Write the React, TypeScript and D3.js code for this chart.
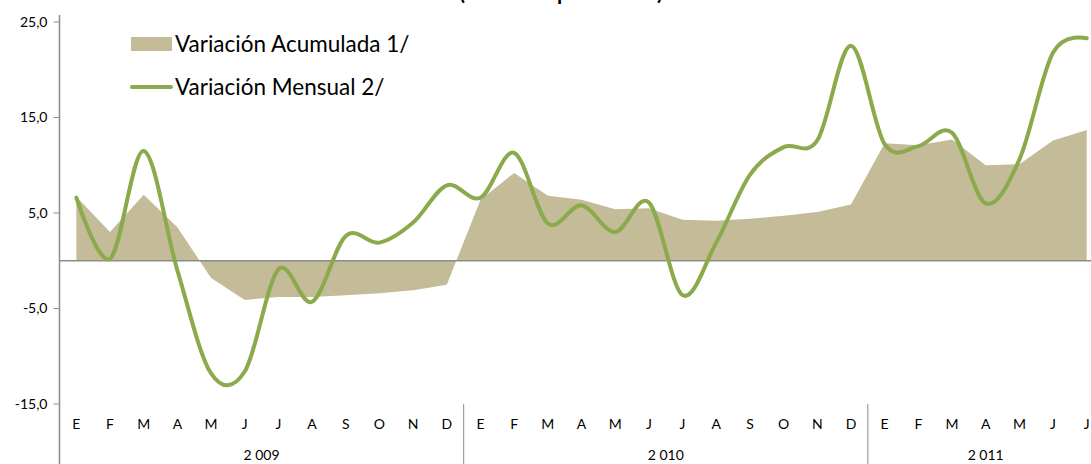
import React from 'react';
import * as d3 from 'd3';

// month initials (Spanish) and year groups
const monthNames = ['E', 'F', 'M', 'A', 'M', 'J', 'J', 'A', 'S', 'O', 'N', 'D'];
const years = ['2 009', '2 010', '2 011'];
const monthsPerYear = [12, 12, 7];

// Variación Acumulada 1/ (area)
const acumulada = [
  6.7, 3.0, 6.9, 3.5, -1.8, -4.1, -3.8, -3.8, -3.6, -3.4, -3.1, -2.5,
  6.4, 9.2, 6.8, 6.4, 5.4, 5.5, 4.3, 4.2, 4.4, 4.7, 5.1, 5.9,
  12.3, 12.1, 12.7, 10.0, 10.1, 12.6, 13.7,
];

// Variación Mensual 2/ (smoothed line)
const mensual = [
  6.6, 0.2, 11.5, -1.0, -11.8, -11.6, -0.9, -4.3, 2.6, 1.9, 4.0, 7.9,
  6.6, 11.3, 3.9, 5.8, 3.0, 6.1, -3.6, 1.9, 9.0, 11.9, 12.6, 22.5,
  12.2, 12.0, 13.4, 6.0, 10.6, 21.8, 23.3,
];

const yTicks = [-15, -5, 5, 15, 25];

const W = 1091;
const H = 464;
const FONT = 'Lato, "Open Sans", sans-serif';
const AREA_COLOR = '#c4bc98';
const LINE_COLOR = '#8aaa4b';
const AXIS_COLOR = '#8c8c8c';

export default function App() {
  const n = acumulada.length;
  const idx = d3.range(n);

  const left = 59.5;
  const step = 33.68;
  const x = d3.scaleBand<number>()
    .domain(idx)
    .range([left, left + step * n]);
  const cx = (i: number) => (x(i) as number) + x.bandwidth() / 2;

  const y = d3.scaleLinear().domain([-15, 25]).range([404, 22]);
  const fmt = (v: number) => d3.format('.1f')(v).replace('.', ',').replace('−', '-');

  const area = d3.area<number>()
    .x((_, i) => cx(i))
    .y0(y(0))
    .y1(d => y(d));

  const line = d3.line<number>()
    .x((_, i) => cx(i))
    .y(d => y(d))
    .curve(d3.curveCardinal.tension(0));

  // month labels & year groups
  const monthLabels: string[] = [];
  monthsPerYear.forEach(c => { for (let i = 0; i < c; i++) monthLabels.push(monthNames[i]); });
  const yearStarts = monthsPerYear.map((_, k) => d3.sum(monthsPerYear.slice(0, k)));

  return (
    <div style={{ position: 'fixed', left: 0, top: 0, width: W, height: H, background: '#fff' }}>
      <svg width={W} height={H} style={{ display: 'block', fontFamily: FONT }}>
        {/* title (mostly cut off at the top, as in the source) */}
        <text x={561} y={-0.5} textAnchor="middle" fontSize={21} fontWeight="bold" fill="#000">
          (Variación porcentual)
        </text>

        {/* area series */}
        <path d={area(acumulada) || ''} fill={AREA_COLOR} />

        {/* zero line */}
        <line x1={left} x2={W} y1={y(0)} y2={y(0)} stroke={AXIS_COLOR} strokeWidth={1.5} />

        {/* y axis */}
        <line x1={left} x2={left} y1={15} y2={H} stroke={AXIS_COLOR} strokeWidth={1.5} />
        {yTicks.map(t => (
          <g key={t}>
            <line x1={left - 6} x2={left} y1={y(t)} y2={y(t)} stroke={AXIS_COLOR} strokeWidth={1} />
            <text x={left - 12} y={y(t)} dy="0.35em" textAnchor="end" fontSize={14} fill="#000">
              {fmt(t)}
            </text>
          </g>
        ))}

        {/* year separators */}
        {yearStarts.slice(1).map(s => (
          <line key={s} x1={x(s) as number} x2={x(s) as number} y1={404} y2={H}
            stroke={AXIS_COLOR} strokeWidth={1} />
        ))}

        {/* month labels */}
        {monthLabels.map((m, i) => (
          <text key={i} x={cx(i)} y={429} textAnchor="middle" fontSize={14} fill="#000">{m}</text>
        ))}

        {/* year labels */}
        {years.map((yr, k) => {
          const a = x(yearStarts[k]) as number;
          const b = a + step * monthsPerYear[k];
          return (
            <text key={yr} x={(a + b) / 2} y={460} textAnchor="middle" fontSize={14} fill="#000">{yr}</text>
          );
        })}

        {/* line series */}
        <path d={line(mensual) || ''} fill="none" stroke={LINE_COLOR} strokeWidth={4} strokeLinecap="round" />

        {/* legend */}
        <rect x={131} y={37} width={41} height={14} fill={AREA_COLOR} />
        <text x={175} y={52} fontSize={22.5} fill="#000">Variación Acumulada 1/</text>
        <line x1={132} x2={171} y1={87} y2={87} stroke={LINE_COLOR} strokeWidth={4} strokeLinecap="round" />
        <text x={175} y={95} fontSize={22.5} fill="#000">Variación Mensual 2/</text>
      </svg>
    </div>
  );
}
